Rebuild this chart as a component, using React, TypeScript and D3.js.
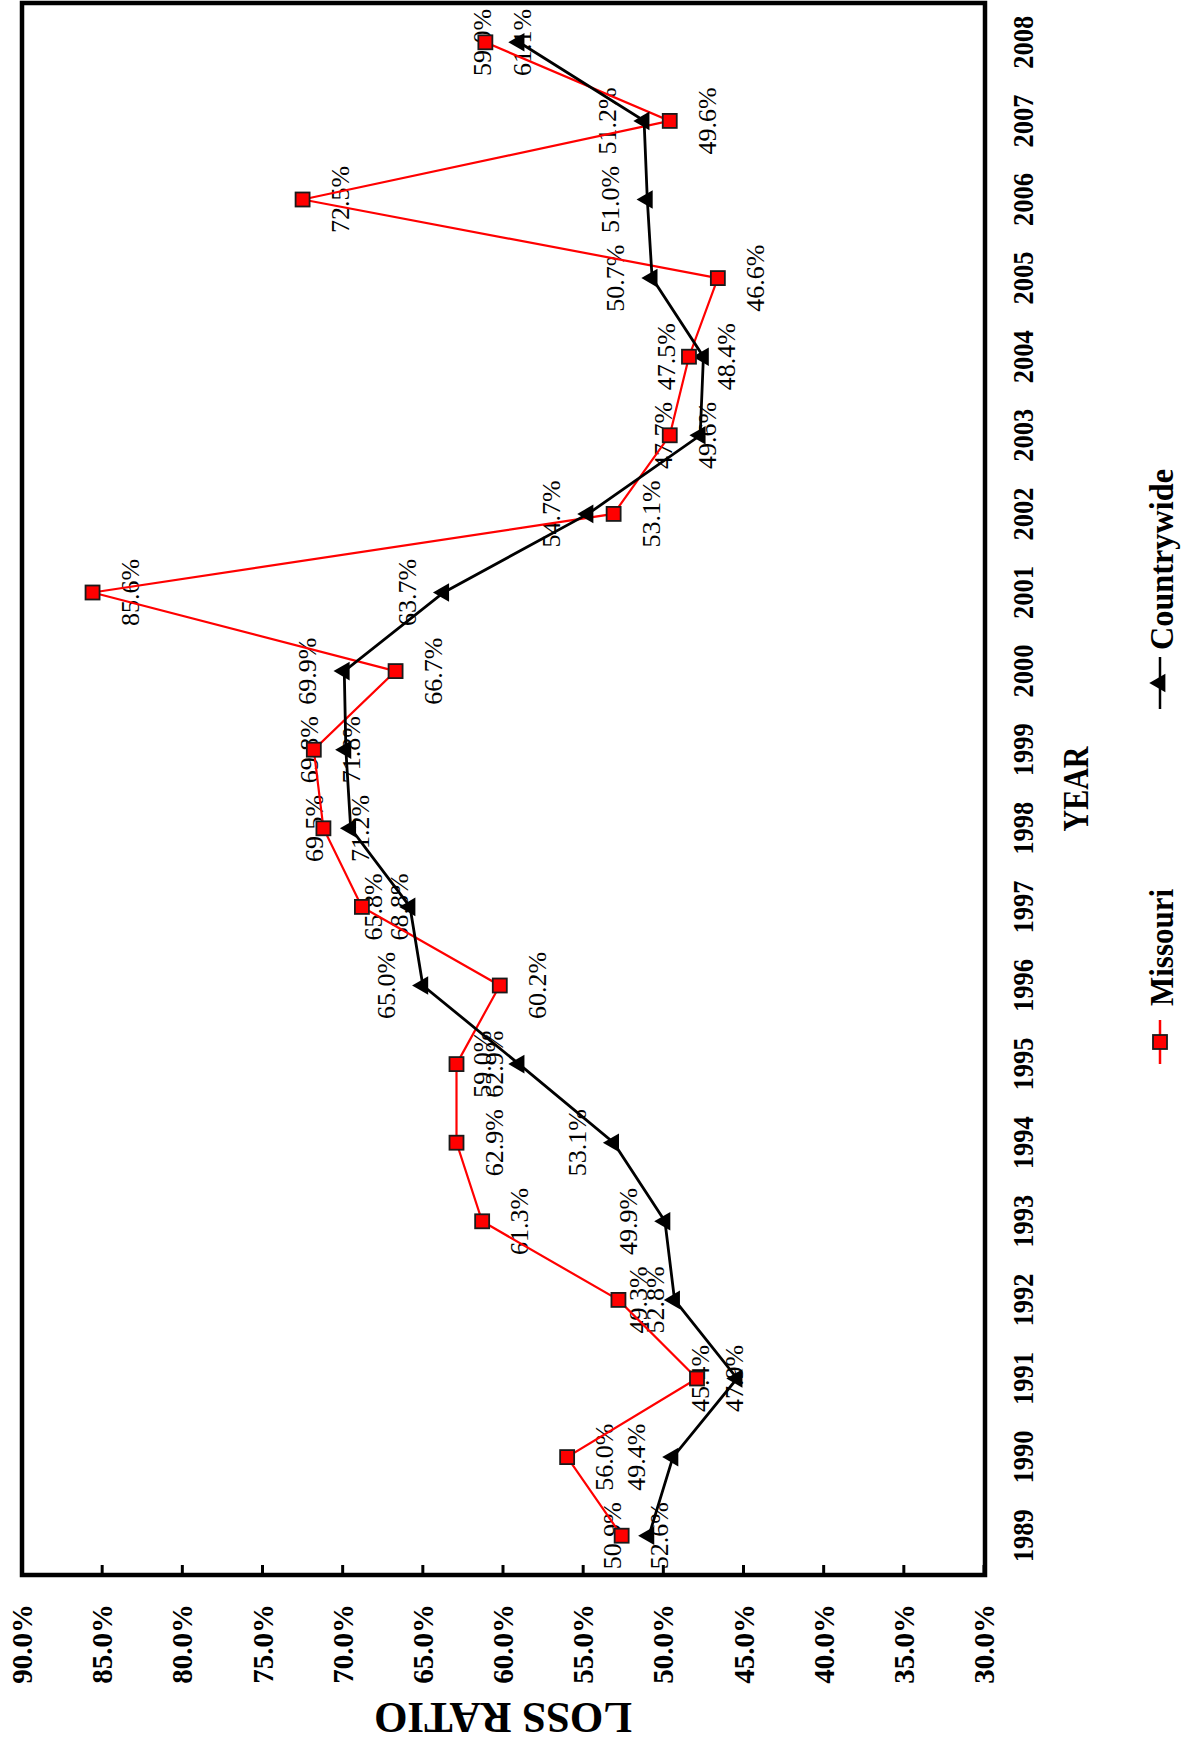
import React from 'react';
import * as d3 from 'd3';

const years = ['1989','1990','1991','1992','1993','1994','1995','1996','1997','1998','1999','2000','2001','2002','2003','2004','2005','2006','2007','2008'];
const missouri = [52.6, 56.0, 47.9, 52.8, 61.3, 62.9, 62.9, 60.2, 68.8, 71.2, 71.8, 66.7, 85.6, 53.1, 49.6, 48.4, 46.6, 72.5, 49.6, 61.1];
const countrywide = [50.9, 49.4, 45.4, 49.3, 49.9, 53.1, 59.0, 65.0, 65.8, 69.5, 69.8, 69.9, 63.7, 54.7, 47.7, 47.5, 50.7, 51.0, 51.2, 59.0];
const valueTicks = [90, 85, 80, 75, 70, 65, 60, 55, 50, 45, 40, 35, 30];

const W = 1193;
const H = 1752;
const FONT = '"Liberation Serif", "Times New Roman", Times, serif';

export default function App() {
  const frame = { left: 22, right: 985, top: 3, bottom: 1575 };
  const x = d3.scaleLinear().domain([90, 30]).range([22, 984]);
  const yb = d3.scaleBand<string>().domain([...years].reverse()).range([frame.top, frame.bottom]);
  const yc = (yr: string) => (yb(yr) as number) + yb.bandwidth() / 2;

  const line = d3
    .line<number>()
    .x((d) => x(d))
    .y((_, i) => yc(years[i]));

  const tri = d3.symbol().type(d3.symbolTriangle).size(150)() as string;
  const fmt = (v: number) => v.toFixed(1) + '%';

  return (
    <svg width={W} height={H} style={{ position: 'absolute', left: 0, top: 0, background: '#fff' }} fontFamily={FONT}>
      <rect x={0} y={0} width={W} height={H} fill="#fff" />
      {/* data labels */}
      <g fontSize={26} fill="#000">
        {missouri.map((v, i) => (
          <text key={'ml' + i} transform={`translate(${x(v) + 46},${yc(years[i])}) rotate(-90)`} textAnchor="middle">
            {fmt(v)}
          </text>
        ))}
        {countrywide.map((v, i) => (
          <text key={'cl' + i} transform={`translate(${x(v) - 28},${yc(years[i])}) rotate(-90)`} textAnchor="middle">
            {fmt(v)}
          </text>
        ))}
      </g>
      {/* lines */}
      <path d={line(missouri) as string} fill="none" stroke="#ff0000" strokeWidth={2.2} />
      <path d={line(countrywide) as string} fill="none" stroke="#000" strokeWidth={2.8} />
      {/* markers */}
      {countrywide.map((v, i) => (
        <path key={'cm' + i} d={tri} transform={`translate(${x(v)},${yc(years[i])}) rotate(-90)`} fill="#000" />
      ))}
      {missouri.map((v, i) => (
        <rect key={'mm' + i} x={x(v) - 7} y={yc(years[i]) - 7} width={14} height={14} fill="#ff0000" stroke="#1a1a1a" strokeWidth={1.8} />
      ))}
      {/* frame */}
      <rect x={frame.left} y={frame.top} width={frame.right - frame.left} height={frame.bottom - frame.top} fill="none" stroke="#000" strokeWidth={4.5} />
      {/* value ticks */}
      {valueTicks.map((t) => (
        <g key={'t' + t}>
          <line x1={x(t)} x2={x(t)} y1={frame.bottom} y2={frame.bottom - 10} stroke="#000" strokeWidth={3} />
          <text transform={`translate(${x(t) + 10},1604) rotate(-90)`} textAnchor="end" fontSize={29} fontWeight="bold">
            {t.toFixed(1) + '%'}
          </text>
        </g>
      ))}
      {/* year labels */}
      {years.map((yr) => (
        <text key={'y' + yr} transform={`translate(1033,${yc(yr)}) rotate(-90)`} textAnchor="middle" fontSize={30} fontWeight="bold" textLength={53} lengthAdjust="spacingAndGlyphs">
          {yr}
        </text>
      ))}
      {/* axis titles */}
      <text transform={`translate(503,1703) rotate(180)`} textAnchor="middle" fontSize={45} fontWeight="bold" textLength={258} lengthAdjust="spacingAndGlyphs">
        LOSS RATIO
      </text>
      <text transform={`translate(1088,789) rotate(-90)`} textAnchor="middle" fontSize={36} fontWeight="bold" textLength={85} lengthAdjust="spacingAndGlyphs">
        YEAR
      </text>
      {/* legend */}
      <g>
        <line x1={1160} x2={1160} y1={1020} y2={1064} stroke="#ff0000" strokeWidth={2.5} />
        <rect x={1153} y={1035} width={14} height={14} fill="#ff0000" stroke="#1a1a1a" strokeWidth={1.8} />
        <text transform={`translate(1173,1006) rotate(-90)`} textAnchor="start" fontSize={34} fontWeight="bold" textLength={117} lengthAdjust="spacingAndGlyphs">
          Missouri
        </text>
        <line x1={1160} x2={1160} y1={657} y2={709} stroke="#000" strokeWidth={2.5} />
        <path d={tri} transform={`translate(1160,683) rotate(-90)`} fill="#000" />
        <text transform={`translate(1173,650) rotate(-90)`} textAnchor="start" fontSize={34} fontWeight="bold" textLength={181} lengthAdjust="spacingAndGlyphs">
          Countrywide
        </text>
      </g>
    </svg>
  );
}
